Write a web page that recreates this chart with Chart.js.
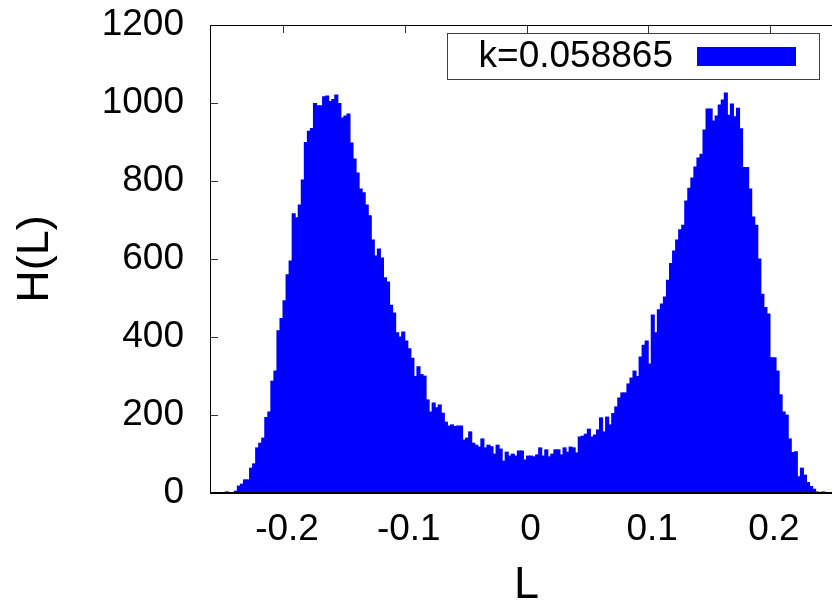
<!DOCTYPE html>
<html><head><meta charset="utf-8">
<script src="https://cdn.jsdelivr.net/npm/chart.js@4.4.1/dist/chart.umd.min.js"></script>
<style>
html,body{margin:0;padding:0;background:#fff;overflow:hidden;width:832px;height:608px;}
#wrap{position:absolute;left:0;top:0;width:843px;height:608px;}
canvas{display:block;}
</style></head><body>
<div id="wrap"><canvas id="c" width="843" height="608"></canvas></div>
<script>
// histogram bin centres (L), bin width 0.0025
const binCenters = [
-0.25875,-0.25625,-0.25375,-0.25125,
-0.24875,-0.24625,-0.24375,-0.24125,
-0.23875,-0.23625,-0.23375,-0.23125,
-0.22875,-0.22625,-0.22375,-0.22125,
-0.21875,-0.21625,-0.21375,-0.21125,
-0.20875,-0.20625,-0.20375,-0.20125,
-0.19875,-0.19625,-0.19375,-0.19125,
-0.18875,-0.18625,-0.18375,-0.18125,
-0.17875,-0.17625,-0.17375,-0.17125,
-0.16875,-0.16625,-0.16375,-0.16125,
-0.15875,-0.15625,-0.15375,-0.15125,
-0.14875,-0.14625,-0.14375,-0.14125,
-0.13875,-0.13625,-0.13375,-0.13125,
-0.12875,-0.12625,-0.12375,-0.12125,
-0.11875,-0.11625,-0.11375,-0.11125,
-0.10875,-0.10625,-0.10375,-0.10125,
-0.09875,-0.09625,-0.09375,-0.09125,
-0.08875,-0.08625,-0.08375,-0.08125,
-0.07875,-0.07625,-0.07375,-0.07125,
-0.06875,-0.06625,-0.06375,-0.06125,
-0.05875,-0.05625,-0.05375,-0.05125,
-0.04875,-0.04625,-0.04375,-0.04125,
-0.03875,-0.03625,-0.03375,-0.03125,
-0.02875,-0.02625,-0.02375,-0.02125,
-0.01875,-0.01625,-0.01375,-0.01125,
-0.00875,-0.00625,-0.00375,-0.00125,
0.00125,0.00375,0.00625,0.00875,
0.01125,0.01375,0.01625,0.01875,
0.02125,0.02375,0.02625,0.02875,
0.03125,0.03375,0.03625,0.03875,
0.04125,0.04375,0.04625,0.04875,
0.05125,0.05375,0.05625,0.05875,
0.06125,0.06375,0.06625,0.06875,
0.07125,0.07375,0.07625,0.07875,
0.08125,0.08375,0.08625,0.08875,
0.09125,0.09375,0.09625,0.09875,
0.10125,0.10375,0.10625,0.10875,
0.11125,0.11375,0.11625,0.11875,
0.12125,0.12375,0.12625,0.12875,
0.13125,0.13375,0.13625,0.13875,
0.14125,0.14375,0.14625,0.14875,
0.15125,0.15375,0.15625,0.15875,
0.16125,0.16375,0.16625,0.16875,
0.17125,0.17375,0.17625,0.17875,
0.18125,0.18375,0.18625,0.18875,
0.19125,0.19375,0.19625,0.19875,
0.20125,0.20375,0.20625,0.20875,
0.21125,0.21375,0.21625,0.21875,
0.22125,0.22375,0.22625,0.22875,
0.23125,0.23375,0.23625,0.23875,
0.24125,0.24375,0.24625,0.24875
];
// H(L) counts per bin
const counts = [
0,0,0,1,1,4,2,2,6,19,
24,35,35,65,76,117,129,142,195,209,
288,314,417,449,494,561,596,717,707,740,
804,900,929,936,1000,994,994,1017,1019,1005,
1010,1022,1000,963,968,973,899,858,822,781,
771,740,712,650,609,627,604,553,542,483,
463,412,401,414,391,371,347,300,325,305,
301,240,209,232,220,227,206,183,173,176,
172,173,173,137,142,158,129,124,119,140,
117,124,120,101,124,114,83,106,96,101,
96,109,109,86,96,96,94,99,117,96,
112,94,101,112,112,99,117,106,119,117,
104,145,147,152,165,145,150,163,194,158,
196,176,205,222,245,258,258,281,296,314,
300,350,380,391,332,458,412,471,486,504,
547,590,622,650,676,688,750,783,809,837,
860,870,932,986,986,955,968,996,1009,1027,
970,999,966,988,935,836,836,781,709,688,
601,511,477,460,348,348,314,253,209,201,
140,105,107,43,65,47,28,18,11,4,
1,4,1,0
];
const xTicks = [-0.2,-0.1,0,0.1,0.2];
const xTickLabels = ['-0.2','-0.1','0','0.1','0.2'];
const yTicks = [0,200,400,600,800,1000,1200];
const yTickLabels = ['0','200','400','600','800','1000','1200'];
const seriesLabel = 'k=0.058865';
const xTitle = 'L';
const yTitle = 'H(L)';

const FONT = "'Liberation Sans', Arial, Helvetica, sans-serif";
const BLUE = '#0000ff';

const framePlugin = {
  id: 'frame',
  beforeDatasetsDraw(chart) {
    const {ctx, chartArea: a, scales: {x, y}} = chart;
    ctx.save();
    ctx.strokeStyle = '#333';
    ctx.lineWidth = 1;
    ctx.beginPath();
    yTicks.forEach(v => {
      const py = Math.round(y.getPixelForValue(v)) + 0.5;
      ctx.moveTo(a.left, py); ctx.lineTo(a.left + 8, py);
      ctx.moveTo(a.right, py); ctx.lineTo(a.right - 8, py);
    });
    xTicks.forEach(v => {
      const px = Math.round(x.getPixelForValue(v)) + 0.5;
      ctx.moveTo(px, a.top); ctx.lineTo(px, a.top + 8);
      ctx.moveTo(px, a.bottom); ctx.lineTo(px, a.bottom - 8);
    });
    ctx.stroke();
    ctx.restore();
  },
  afterDatasetsDraw(chart) {
    const {ctx, chartArea: a} = chart;
    ctx.save();
    ctx.strokeStyle = '#000';
    ctx.lineWidth = 1;
    ctx.beginPath();
    ctx.moveTo(a.left + 0.5, a.bottom);
    ctx.lineTo(a.left + 0.5, a.top + 0.5);
    ctx.lineTo(a.right - 0.5, a.top + 0.5);
    ctx.lineTo(a.right - 0.5, a.bottom);
    ctx.stroke();
    ctx.lineWidth = 2;
    ctx.beginPath();
    ctx.moveTo(a.left, a.bottom);
    ctx.lineTo(a.right, a.bottom);
    ctx.stroke();
    // key box
    const ds = chart.data.datasets[0];
    const bw = 372, bh = 46;
    const bx = Math.round(a.right - 24 - bw), by = Math.round(a.top + 8);
    ctx.fillStyle = '#fff';
    ctx.fillRect(bx, by, bw, bh);
    ctx.strokeStyle = '#404040';
    ctx.lineWidth = 1;
    ctx.strokeRect(bx + 0.5, by + 0.5, bw, bh);
    ctx.fillStyle = '#000';
    ctx.font = "37px " + FONT;
    ctx.textAlign = 'right';
    ctx.textBaseline = 'middle';
    ctx.fillText(ds.label, bx + 226, by + bh / 2 + 1);
    ctx.fillStyle = ds.backgroundColor;
    ctx.fillRect(bx + 250, by + 14, 99, 19);
    ctx.restore();
  }
};

new Chart(document.getElementById('c'), {
  type: 'bar',
  data: {
    datasets: [{
      label: seriesLabel,
      data: binCenters.map((c, i) => ({x: c, y: counts[i]})),
      backgroundColor: BLUE,
      borderWidth: 0,
      barPercentage: 1.35,
      categoryPercentage: 1.0
    }]
  },
  options: {
    responsive: false,
    devicePixelRatio: 1,
    animation: false,
    layout: {padding: {top: 25, left: 0, right: 0, bottom: 0}},
    plugins: {legend: {display: false}, tooltip: {enabled: false}},
    scales: {
      x: {
        type: 'linear', min: -0.26, max: 0.26, offset: false,
        grid: {display: false, drawTicks: false, offset: false},
        border: {display: false},
        afterBuildTicks: s => { s.ticks = xTicks.map(v => ({value: v})); },
        afterFit: s => { s.height = 115; },
        ticks: {
          font: {family: FONT, size: 37}, color: '#000', padding: 15,
          labelOffset: 4,
          maxRotation: 0, autoSkip: false, includeBounds: false,
          callback: (v, i) => xTickLabels[i]
        },
        title: {display: true, text: xTitle, color: '#000',
          font: {family: FONT, size: 45, lineHeight: 1}, padding: {top: 0, bottom: 0}}
      },
      y: {
        min: 0, max: 1200,
        grid: {display: false, drawTicks: false},
        border: {display: false},
        afterBuildTicks: s => { s.ticks = yTicks.map(v => ({value: v})); },
        afterFit: s => { s.width = 210; s.paddingTop = 0; s.paddingBottom = 0; },
        ticks: {
          font: {family: FONT, size: 37}, color: '#000', padding: 26,
          autoSkip: false, includeBounds: false,
          callback: (v, i) => yTickLabels[i]
        },
        title: {display: true, text: yTitle, color: '#000',
          font: {family: FONT, size: 45, lineHeight: 1}, padding: {top: 13.5, bottom: 0}}
      }
    }
  },
  plugins: [framePlugin]
});
</script>
</body></html>
